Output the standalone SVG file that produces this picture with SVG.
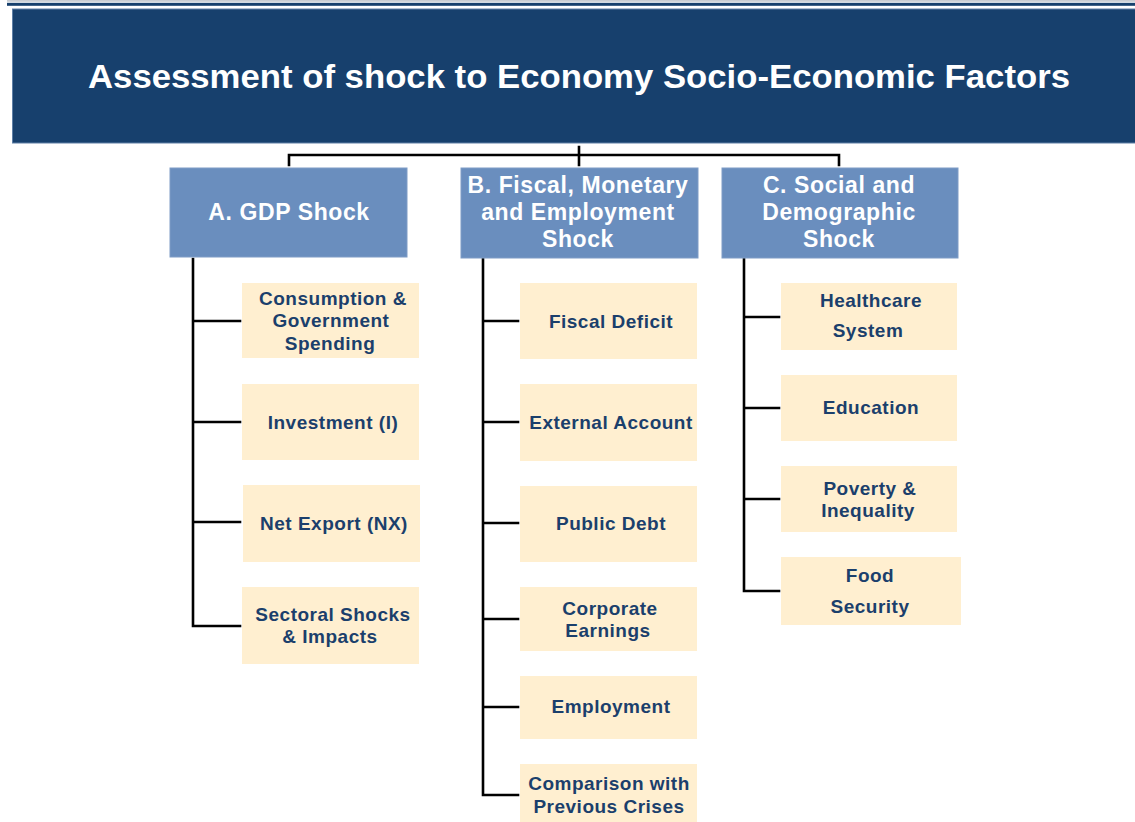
<svg xmlns="http://www.w3.org/2000/svg" width="1135" height="822" viewBox="0 0 1135 822">
<style>
.title{font-family:"Liberation Sans",Arial,sans-serif;font-weight:bold;font-size:33px;fill:#ffffff;text-anchor:middle}
.hdr{fill:#6A8EBE;stroke:#7E9CC6;stroke-width:1}
.htxt{font-family:"Liberation Sans",Arial,sans-serif;font-weight:bold;font-size:23px;letter-spacing:0.6px;fill:#ffffff;text-anchor:middle}
.box{fill:#FFEFD0}
.btxt{font-family:"Liberation Sans",Arial,sans-serif;font-weight:bold;font-size:19px;letter-spacing:0.5px;fill:#1B3F6C;text-anchor:middle}
.ln{fill:none;stroke:#000000;stroke-width:2.6;stroke-linecap:square}
</style>
<rect x="0" y="0" width="1135" height="822" fill="#ffffff"/>
<rect x="7" y="0" width="1128" height="1.8" fill="#C8CCD2"/>
<rect x="7" y="2.8" width="1128" height="3" fill="#17406D"/>
<g id="title">
<rect x="12.5" y="9" width="1123" height="134" fill="#17406D" stroke="#5E7FA6" stroke-width="1"/>
<text class="title" x="579" y="88" textLength="982" lengthAdjust="spacingAndGlyphs">Assessment of shock to Economy Socio-Economic Factors</text>
</g>
<g id="connectors">
<path class="ln" d="M579 147 V155 M289 165 V155 H839 V165 M579 155 V165"/>
<path class="ln" d="M193 259 V626 H240 M193 321 H240 M193 422 H240 M193 522 H240"/>
<path class="ln" d="M483 259 V795 H518 M483 321 H518 M483 422 H518 M483 523 H518 M483 619 H518 M483 707 H518"/>
<path class="ln" d="M744 259 V591 H779 M744 317 H779 M744 408 H779 M744 499 H779"/>
</g>
<g id="hA"><rect class="hdr" x="170" y="168" width="237" height="89"/><text class="htxt" x="289" y="220">A. GDP Shock</text></g>
<g id="hB"><rect class="hdr" x="461" y="168" width="237" height="90"/><text class="htxt" x="578" y="193">B. Fiscal, Monetary</text><text class="htxt" x="578" y="220">and Employment</text><text class="htxt" x="578" y="247">Shock</text></g>
<g id="hC"><rect class="hdr" x="722" y="168" width="236" height="90"/><text class="htxt" x="839" y="193">C. Social and</text><text class="htxt" x="839" y="220">Demographic</text><text class="htxt" x="839" y="247">Shock</text></g>
<g id="a1"><rect class="box" x="242" y="283" width="177" height="75"/><text class="btxt" x="333" y="305">Consumption &amp;</text><text class="btxt" x="331" y="327">Government</text><text class="btxt" x="330" y="350">Spending</text></g>
<g id="a2"><rect class="box" x="242" y="384" width="177" height="76"/><text class="btxt" x="333" y="429">Investment (I)</text></g>
<g id="a3"><rect class="box" x="243" y="485" width="177" height="77"/><text class="btxt" x="334" y="530">Net Export (NX)</text></g>
<g id="a4"><rect class="box" x="242" y="587" width="177" height="77"/><text class="btxt" x="333" y="621">Sectoral Shocks</text><text class="btxt" x="330" y="643">&amp; Impacts</text></g>
<g id="b1"><rect class="box" x="520" y="283" width="177" height="76"/><text class="btxt" x="611" y="328">Fiscal Deficit</text></g>
<g id="b2"><rect class="box" x="520" y="384" width="177" height="77"/><text class="btxt" x="611" y="429">External Account</text></g>
<g id="b3"><rect class="box" x="520" y="486" width="177" height="76"/><text class="btxt" x="611" y="530">Public Debt</text></g>
<g id="b4"><rect class="box" x="520" y="587" width="177" height="64"/><text class="btxt" x="610" y="615">Corporate</text><text class="btxt" x="608" y="637">Earnings</text></g>
<g id="b5"><rect class="box" x="520" y="676" width="177" height="63"/><text class="btxt" x="611" y="713">Employment</text></g>
<g id="b6"><rect class="box" x="520" y="764" width="177" height="58"/><text class="btxt" x="609" y="790">Comparison with</text><text class="btxt" x="609" y="813">Previous Crises</text></g>
<g id="c1"><rect class="box" x="781" y="283" width="176" height="67"/><text class="btxt" x="871" y="307">Healthcare</text><text class="btxt" x="868" y="337">System</text></g>
<g id="c2"><rect class="box" x="781" y="375" width="176" height="66"/><text class="btxt" x="871" y="414">Education</text></g>
<g id="c3"><rect class="box" x="781" y="466" width="176" height="66"/><text class="btxt" x="870" y="495">Poverty &amp;</text><text class="btxt" x="868" y="517">Inequality</text></g>
<g id="c4"><rect class="box" x="781" y="557" width="180" height="68"/><text class="btxt" x="870" y="582">Food</text><text class="btxt" x="870" y="613">Security</text></g>
</svg>
